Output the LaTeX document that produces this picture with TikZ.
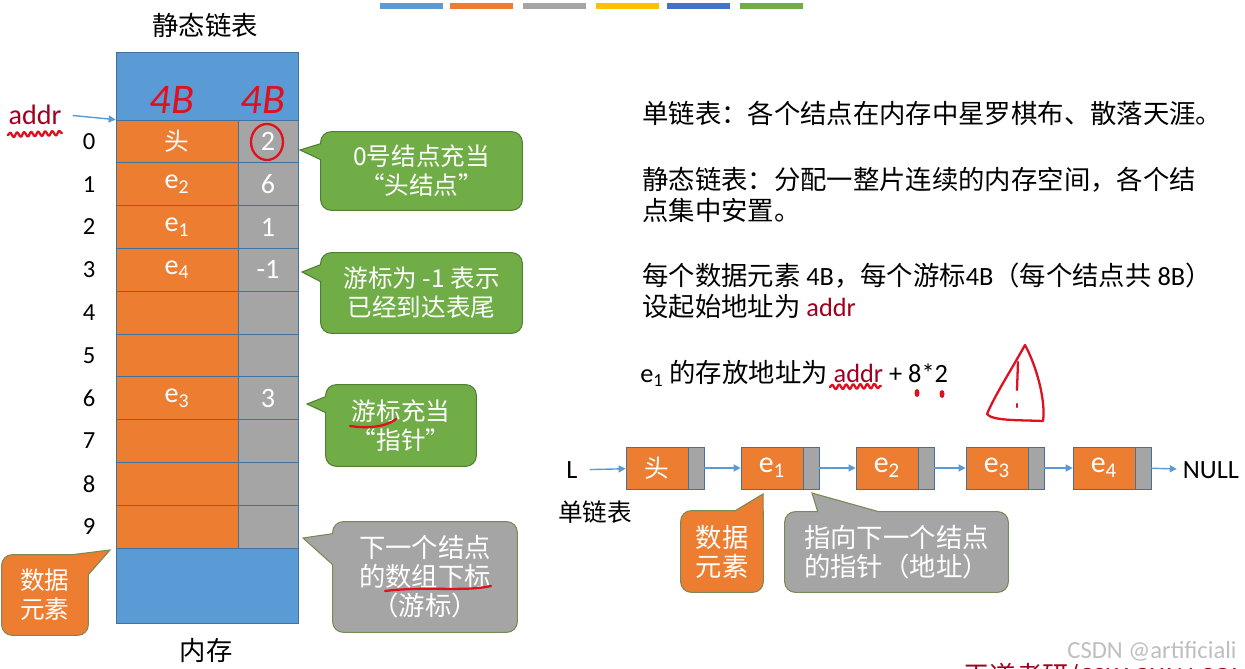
\documentclass[tikz,border=0pt]{standalone}
\usepackage{fontspec}
\setmainfont{Noto Sans CJK SC}
\newfontfamily\zh{Noto Sans CJK SC}
\newfontfamily\lat{Carlito}
\usetikzlibrary{arrows.meta, calc, backgrounds, decorations.pathmorphing}
\definecolor{memblue}{HTML}{5B9BD5}
\definecolor{memline}{HTML}{41719C}
\definecolor{dataorange}{HTML}{ED7D31}
\definecolor{nextgray}{HTML}{A5A5A5}
\definecolor{tipgreen}{HTML}{70AD47}
\definecolor{tipgreenline}{HTML}{507E32}
\definecolor{tipedge}{HTML}{768A56}
\definecolor{baryellow}{HTML}{FFC000}
\definecolor{bardark}{HTML}{4472C4}
\definecolor{inkred}{HTML}{E0101E}
\definecolor{addrred}{HTML}{A0001E}

\begin{document}
\begin{tikzpicture}[x=0.02cm, y=-0.02cm,
  membox/.style={draw=memline, fill=memblue, minimum width=3.64cm,
    minimum height=11.42cm, inner sep=0pt},
  datacell/.style={draw=memline, fill=dataorange, minimum width=2.44cm,
    minimum height=0.856cm, inner sep=0pt, text=white,
    font=\lat\fontsize{16}{18}\selectfont},
  nextcell/.style={draw=memline, fill=nextgray, minimum width=1.2cm,
    minimum height=0.856cm, inner sep=0pt, text=white,
    font=\lat\fontsize{16}{18}\selectfont},
  idxlbl/.style={font=\lat\fontsize{14}{16}\selectfont},
  lsdata/.style={draw=memline, fill=dataorange, minimum width=1.24cm,
    minimum height=0.84cm, inner sep=0pt, text=white,
    font=\lat\fontsize{17}{18}\selectfont},
  lsnext/.style={draw=memline, fill=nextgray, minimum width=0.32cm,
    minimum height=0.84cm, inner sep=0pt},
  calltext/.style={text=white, align=center, inner sep=0pt,
    font=\fontsize{14}{16.5}\selectfont},
  callgreen/.style={fill=tipgreen, draw=tipgreenline, line width=0.6pt},
  callgray/.style={fill=nextgray, draw=tipedge, line width=0.6pt},
  callorange/.style={fill=dataorange, draw=tipedge, line width=0.6pt},
  note/.style={anchor=west, align=left, inner sep=0pt,
    font=\fontsize{15}{17.6}\selectfont},
  plain/.style={font=\fontsize{15}{17}\selectfont},
  blarr/.style={-{Triangle[length=4pt, width=4pt]}, memblue, line width=0.8pt},
  ink/.style={draw=inkred, line width=1.3pt, line cap=round, line join=round},
  inkwave/.style={ink, decorate,
    decoration={snake, amplitude=1.3pt, segment length=4pt}},
  inktext/.style={text=inkred, font=\lat\itshape\fontsize{24}{24}\selectfont},
]
\useasboundingbox (0,0) rectangle (1245,669);
\begin{scope}[on background layer]
  \fill[white] (0,0) rectangle (1245,669);
\end{scope}

% colour strip of the slide
\foreach \x/\c in {380/memblue, 450/dataorange, 523/nextgray,
                   596/baryellow, 667/bardark, 740/tipgreen} {
  \fill[\c] (\x,3) rectangle (\x+63,9);
}

% static list in memory
\node[plain] (title) at (205,25) {静态链表};
\node[membox] (mem) at (207,337.5) {};
\foreach \d/\n [count=\i from 0] in {{\zh\fontsize{14}{16}\selectfont 头}/2,
    e\textsubscript{2}/6, e\textsubscript{1}/1, e\textsubscript{4}/-1,
    {}/{}, {}/{}, e\textsubscript{3}/3, {}/{}, {}/{}, {}/{}} {
  \node[datacell] (d\i) at (177,141.4+42.8*\i) {\d};
  \node[nextcell] (c\i) at (268,141.4+42.8*\i) {\n};
  \node[idxlbl]   (i\i) at (89,141.4+42.8*\i) {\i};
}
\node[plain] (memlbl) at (206,651) {内存};
\node[text=addrred, font=\lat\fontsize{16}{18}\selectfont] (addr) at (35,115) {addr};
\draw[blarr, shorten <=0.1cm] (addr.east) -- (d0.north west);

% callouts
\node[calltext, minimum width=4.02cm, minimum height=1.56cm] (cb0)
  at (421.5,171) {0号结点充当\\“头结点”};
\node[calltext, minimum width=4.02cm, minimum height=1.6cm] (cb1)
  at (421.5,293) {游标为 -1 表示\\已经到达表尾};
\node[calltext, minimum width=3.0cm, minimum height=1.62cm] (cb2)
  at (401,425.5) {游标充当\\“指针”};
\node[calltext, minimum width=3.68cm, minimum height=2.2cm,
  font=\fontsize{15}{16.5}\selectfont] (cb3)
  at (425,577) {下一个结点\\的数组下标\\（游标）};
\node[calltext, minimum width=1.72cm, minimum height=1.6cm] (cb5)
  at (45,595) {数据\\元素};
\coordinate (t0) at (300,150);
\coordinate (t1) at (302,272);
\coordinate (t2) at (307,404);
\coordinate (t3) at (303,538);
\coordinate (t5) at (110,550);

% right side text
\node[note] (txt1) at (642,113) {单链表：各个结点在内存中星罗棋布、散落天涯。};
\node[note] (txt2) at (642,195) {静态链表：分配一整片连续的内存空间，各个结\\点集中安置。};
\node[note] (txt3) at (642,291) {每个数据元素 {\lat 4B}，每个游标{\lat 4B}（每个结点共 {\lat 8B}）\\设起始地址为 {\lat\color{addrred}addr}};
\node[note] (txt4) at (640,373) {{\lat e\textsubscript{1}} 的存放地址为 {\lat\color{addrred}addr}{\lat\ + 8*2}};

% single linked list
\node[plain, font=\lat\fontsize{15}{17}\selectfont] (L) at (572,470) {L};
\node[plain, font=\fontsize{14}{16}\selectfont] (sll) at (595,512) {单链表};
\foreach \x/\t [count=\k from 0] in {626/{\zh\fontsize{14}{16}\selectfont 头},
    741/e\textsubscript{1}, 856/e\textsubscript{2}, 966/e\textsubscript{3},
    1073/e\textsubscript{4}} {
  \node[lsdata] (n\k) at (\x+31,468) {\t};
  \node[lsnext] (p\k) at (\x+70,468) {};
}
\node[plain, font=\lat\fontsize{15}{17}\selectfont] (null) at (1211,470) {NULL};
\draw[blarr, shorten <=0.12cm] (L) -- (n0);
\foreach \a/\b in {p0/n1, p1/n2, p2/n3, p3/n4} {
  \draw[blarr] (\a) -- (\b);
}
\draw[blarr] (p4) -- (null);

\node[calltext, minimum width=1.64cm, minimum height=1.62cm,
  font=\fontsize{15}{16.5}\selectfont] (cb6) at (722,551.5) {数据\\元素};
\node[calltext, minimum width=4.46cm, minimum height=1.6cm,
  font=\fontsize{15}{16.5}\selectfont] (cb7) at (896.5,552) {指向下一个结点\\的指针（地址）};
\coordinate (t6) at (763,494);
\coordinate (t7) at (812,493);

\begin{scope}[on background layer]
  \path[callgreen] (cb0.south) [rounded corners=6pt] -- (cb0.south east)
    -- (cb0.north east) -- (cb0.north west) [sharp corners]
    -- ($(cb0.north west)+(0,12)$) -- (t0) -- ($(cb0.north west)+(0,28)$)
    [rounded corners=6pt] -- (cb0.south west) -- cycle;
  \path[callgreen] (cb1.south) [rounded corners=6pt] -- (cb1.south east)
    -- (cb1.north east) -- (cb1.north west) [sharp corners]
    -- ($(cb1.north west)+(0,12)$) -- (t1) -- ($(cb1.north west)+(0,29)$)
    [rounded corners=6pt] -- (cb1.south west) -- cycle;
  \path[callgreen] (cb2.south) [rounded corners=6pt] -- (cb2.south east)
    -- (cb2.north east) -- (cb2.north west) [sharp corners]
    -- ($(cb2.north west)+(0,12)$) -- (t2) -- ($(cb2.north west)+(0,28)$)
    [rounded corners=6pt] -- (cb2.south west) -- cycle;
  \path[callgray] (cb3.south) [rounded corners=6pt] -- (cb3.south east)
    -- (cb3.north east) -- (cb3.north west) [sharp corners]
    -- ($(cb3.north west)+(0,12)$) -- (t3) -- ($(cb3.north west)+(0,43)$)
    [rounded corners=6pt] -- (cb3.south west) -- cycle;
  \path[callorange] (cb5.south) [rounded corners=6pt] -- (cb5.south west)
    -- (cb5.north west) [sharp corners] -- ($(cb5.north east)+(-16,0)$)
    -- (t5) -- ($(cb5.north east)+(0,20)$)
    [rounded corners=6pt] -- (cb5.south east) -- cycle;
  \path[callorange] (cb6.south) [rounded corners=6pt] -- (cb6.south west)
    -- (cb6.north west) [sharp corners] -- ($(cb6.north east)+(-28,0)$)
    -- (t6) -- ($(cb6.north east)+(0,10)$)
    [rounded corners=6pt] -- (cb6.south east) -- cycle;
  \path[callgray] (cb7.south) [rounded corners=6pt] -- (cb7.south west)
    -- (cb7.north west) [sharp corners] -- ($(cb7.north west)+(33,0)$)
    -- (t7) -- ($(cb7.north west)+(94,0)$)
    [rounded corners=6pt] -- (cb7.north east) -- (cb7.south east) -- cycle;
\end{scope}

% red pen marks
\node[inktext] (w0) at (172,100) {4B};
\node[inktext] (w1) at (263,100) {4B};
\draw[ink] (267,142) ellipse [x radius=0.32cm, y radius=0.36cm];
\draw[inkwave] (8,135) -- (62,133);
\draw[ink] (350,426) .. controls (370,429) and (388,426) .. (396,419);
\draw[ink] (385,591) .. controls (425,586) and (465,592) .. (491,586);
\draw[inkwave] (830,387) -- (881,386);
\fill[inkred] (917,393) ellipse [x radius=0.05cm, y radius=0.08cm];
\fill[inkred] (942,394) ellipse [x radius=0.05cm, y radius=0.08cm];
\draw[ink] (1025,345) .. controls (1010,372) and (995,395) .. (987,414)
  .. controls (992,421) and (1020,420) .. (1043,421)
  .. controls (1046,400) and (1036,365) .. (1025,345);
\draw[ink] (1018,362) -- (1017,390);
\draw[ink] (1017,404) -- (1017,407);

% watermark
\node[font=\lat\fontsize{14}{16}\selectfont, text=black!25] (wm) at (1152,651) {CSDN @artificiali};
\node[anchor=west, inner sep=0pt, text=addrred, font=\fontsize{15}{16}\selectfont] (wd)
  at (963,677) {王道考研/{\lat CSKAOYAN.COM}};
\end{tikzpicture}
\end{document}
